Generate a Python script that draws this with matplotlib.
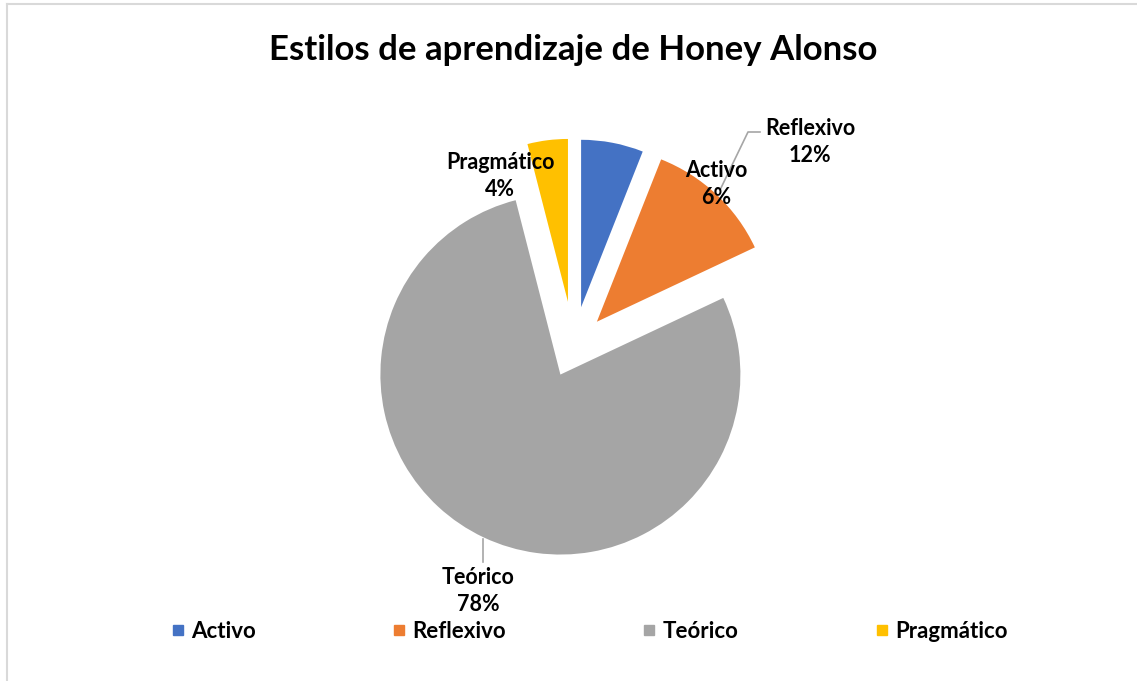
import matplotlib
matplotlib.use("Agg")
import matplotlib.pyplot as plt
from matplotlib.lines import Line2D

plt.rcParams['font.family'] = ['Lato', 'DejaVu Sans']

title = "Estilos de aprendizaje de Honey Alonso"
categories = ["Activo", "Reflexivo", "Teórico", "Pragmático"]
values = [6, 12, 78, 4]
pct_labels = ["6%", "12%", "78%", "4%"]
colors = ["#4472C4", "#ED7D31", "#A5A5A5", "#FFC000"]
explode_px = [40, 34, 31, 45]
radii_scale = [0.93, 0.97, 1.0, 0.905]

W, H = 1137, 681
fig = plt.figure(figsize=(W / 100, H / 100), dpi=100)
ax = fig.add_axes([0, 0, 1, 1])

def Y(y):
    return H - y

R = 180
cx, cy = 573.6, 346.5
wedges, _ = ax.pie(values, colors=colors, startangle=90, counterclock=False,
                   explode=explode_px, radius=R, center=(cx, Y(cy)),
                   wedgeprops=dict(linewidth=0), frame=True)
for w, s in zip(wedges, radii_scale):
    w.set_radius(R * s)
ax.set_xlim(0, W)
ax.set_ylim(0, H)
ax.axis('off')

# border of chart area
fig.add_artist(Line2D([7 / W, 1], [1 - 4 / H, 1 - 4 / H], transform=fig.transFigure,
                      color="#d9d9d9", lw=1.5))
fig.add_artist(Line2D([7 / W, 7 / W], [0, 1 - 4 / H], transform=fig.transFigure,
                      color="#d9d9d9", lw=1.5))

ax.text(573, Y(50), title, ha='center', va='center', fontsize=25, fontweight='bold',
        color='black')

lab_pos = {
    "Activo": (716, 184),
    "Reflexivo": (810, 142),
    "Teórico": (478, 591),
    "Pragmático": (500, 176),
}
for cat, pct in zip(categories, pct_labels):
    x, y = lab_pos[cat]
    ax.text(x, Y(y), f"{cat}\n{pct}", ha='center', va='center', fontsize=15.5,
            fontweight='bold', color='black', linespacing=1.35)

# leader lines
ax.plot([760, 748, 720], [Y(132), Y(132), Y(190)], color="#a6a6a6", lw=1.2)
ax.plot([483, 483], [Y(539), Y(562)], color="#a6a6a6", lw=1.2)

handles = [Line2D([], [], marker='s', linestyle='none', markersize=7,
                  markerfacecolor=c, markeredgecolor=c) for c in colors]
fig.legend(handles, categories, loc='center', bbox_to_anchor=(590 / W, 1 - 631 / H),
           ncol=4, frameon=False, prop=dict(size=16, weight='bold'),
           handlelength=0.5, handletextpad=0.35, columnspacing=6.2)

fig.savefig("out.png", dpi=100)
